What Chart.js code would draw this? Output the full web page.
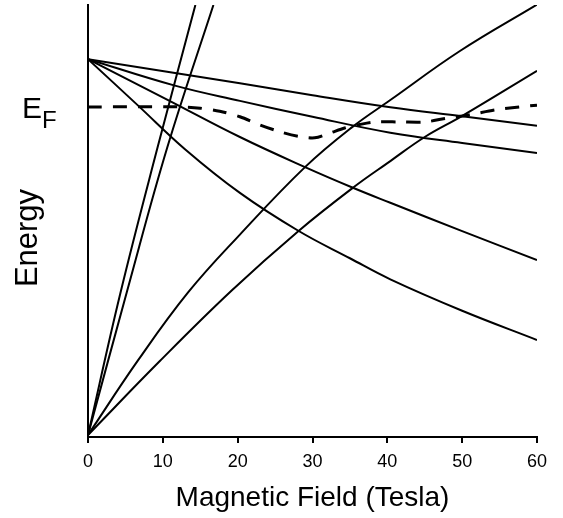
<!DOCTYPE html>
<html>
<head>
<meta charset="utf-8">
<script src="https://cdn.jsdelivr.net/npm/chart.js@4.4.1/dist/chart.umd.min.js"></script>
<style>
html,body{margin:0;padding:0;background:#fff;}
#wrap{width:563px;height:518px;}
</style>
</head>
<body>
<div id="wrap"><canvas id="c" width="563" height="518"></canvas></div>
<script>
// Magnetic field (Tesla) and energy (arbitrary units, 0 = bottom, 100 = top of frame)
const xTicks = [0, 10, 20, 30, 40, 50, 60];

// Levels falling from the upper common point
const t_down1 = [0, 20.3, 30, 40.4, 50, 60];
const e_down1 = [87.4, 81.8, 79.0, 76.2, 74.1, 71.9];

const t_down2 = [0, 11.5, 20.3, 30, 40.4, 50, 60];
const e_down2 = [87.4, 81.3, 77.7, 74.0, 70.3, 67.9, 65.6];

const t_down3 = [0, 10.7, 20.3, 29, 35.4, 40.4, 50, 60];
const e_down3 = [87.4, 77.9, 69.3, 62.3, 57.5, 54.0, 47.4, 40.7];

const t_down4 = [0, 6.7, 13, 20.3, 28.1, 35, 40.4, 50, 60];
const e_down4 = [87.4, 76.6, 66.4, 56.3, 47.5, 41.1, 36.2, 28.9, 22.1];

// Levels rising from the origin
const t_up1 = [0, 6.7, 13.4, 20.3, 29, 35.3, 40.4, 49.7, 60];
const e_up1 = [0, 17.4, 33.2, 46.6, 62.3, 71.6, 77.9, 89.3, 100.1];

const t_up2 = [0, 9.6, 19.2, 28.1, 35.4, 40.4, 45, 49.9, 60];
const e_up2 = [0, 17.2, 33.6, 47.4, 57.5, 63.7, 69.3, 74.1, 84.7];

const t_steep1 = [0, 4.3, 9.3, 14.35];
const e_steep1 = [0, 32.8, 66.9, 100];

const t_steep2 = [0, 5.2, 10.6, 16.76];
const e_steep2 = [0, 33.3, 66.9, 100];

// Fermi energy (dashed)
const t_fermi = [0, 12.3, 15, 17.6, 20.3, 23, 25.7, 28.3, 30.3, 32.3, 34.3, 36.3, 38.4, 41.7, 45, 47.7, 51.1, 54.4, 57.7, 60];
const e_fermi = [76.3, 76.3, 76.0, 75.3, 74.0, 72.1, 70.5, 69.4, 69.1, 70.2, 71.4, 72.2, 72.8, 72.8, 72.8, 73.6, 74.5, 75.6, 76.3, 76.7];

const FONT = '"Liberation Sans", Arial, Helvetica, sans-serif';

function pts(t, e) { return t.map((v, i) => ({x: v, y: e[i]})); }
function solid(t, e) {
  return {data: pts(t, e), borderColor: '#000', borderWidth: 2, pointRadius: 0,
          fill: false, tension: 0.4};
}

const labelsPlugin = {
  id: 'labels',
  afterDraw(chart) {
    const ctx = chart.ctx;
    const ys = chart.scales.y;
    ctx.save();
    ctx.fillStyle = '#000';
    // y-axis title
    ctx.save();
    ctx.translate(28.5, 238);
    ctx.rotate(-Math.PI / 2);
    ctx.font = '31px ' + FONT;
    ctx.textAlign = 'center';
    ctx.textBaseline = 'middle';
    ctx.fillText('Energy', 0, 0);
    ctx.restore();
    // E_F label
    const yF = ys.getPixelForValue(e_fermi[0]);
    ctx.font = '30px ' + FONT;
    ctx.textAlign = 'left';
    ctx.textBaseline = 'alphabetic';
    ctx.fillText('E', 22, yF + 11);
    const w = ctx.measureText('E').width;
    ctx.font = '24px ' + FONT;
    ctx.fillText('F', 22 + w, yF + 21);
    ctx.restore();
  }
};

new Chart(document.getElementById('c'), {
  type: 'line',
  data: {
    datasets: [
      solid(t_down1, e_down1),
      solid(t_down2, e_down2),
      solid(t_down3, e_down3),
      solid(t_down4, e_down4),
      solid(t_up1, e_up1),
      solid(t_up2, e_up2),
      solid(t_steep1, e_steep1),
      solid(t_steep2, e_steep2),
      {data: pts(t_fermi, e_fermi), borderColor: '#000', borderWidth: 3, borderDash: [14, 11],
       pointRadius: 0, fill: false, tension: 0.3}
    ]
  },
  options: {
    responsive: false,
    animation: false,
    devicePixelRatio: 1,
    layout: {padding: {left: 0, right: 26, top: 5, bottom: 0}},
    plugins: {legend: {display: false}, tooltip: {enabled: false}},
    scales: {
      x: {
        type: 'linear', min: 0, max: 60,
        afterFit(s) { s.height = 81; },
        afterBuildTicks(s) { s.ticks = xTicks.map(v => ({value: v})); },
        grid: {display: true, drawOnChartArea: false, drawTicks: true, tickLength: 6, color: '#000', lineWidth: 2},
        border: {display: true, color: '#000', width: 2},
        ticks: {color: '#000', font: {family: FONT, size: 18}, padding: 8, maxRotation: 0},
        title: {display: true, text: 'Magnetic Field (Tesla)', color: '#000',
                font: {family: FONT, size: 28}, padding: {top: 0, bottom: 3}}
      },
      y: {
        type: 'linear', min: -0.47, max: 100,
        afterFit(s) { s.width = 88; },
        grid: {display: false},
        border: {display: true, color: '#000', width: 2},
        ticks: {display: false}
      }
    }
  },
  plugins: [labelsPlugin]
});
</script>
</body>
</html>
